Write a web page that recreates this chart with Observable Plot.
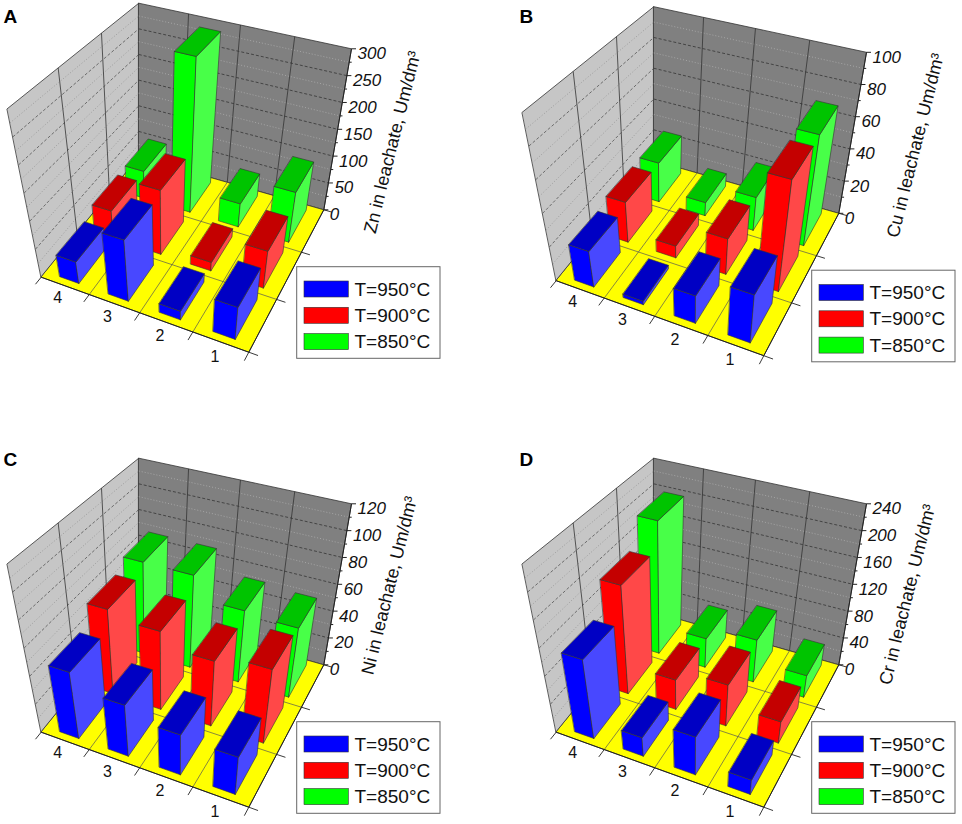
<!DOCTYPE html>
<html>
<head>
<meta charset="utf-8">
<script src="https://cdn.jsdelivr.net/npm/d3@7"></script>
<script src="https://cdn.jsdelivr.net/npm/@observablehq/plot@0.6"></script>
<style>
  body { margin: 0; background: #fff; }
  #chart { width: 962px; height: 824px; }
</style>
</head>
<body>
<div id="chart"></div>
<script>
// ---------- data ----------
const categories = ["4", "3", "2", "1"];
const seriesNames = ["T=950°C", "T=900°C", "T=850°C"];

const zn950 = [38, 108, 15, 56];
const zn900 = [50, 115, 15, 65];
const zn850 = [50, 288, 42, 90];

const cu950 = [21, 2, 16, 28];
const cu900 = [24, 7, 21, 66];
const cu850 = [24, 8, 20, 67];

const ni950 = [47, 36, 28, 26];
const ni900 = [61, 56, 46, 52];
const ni850 = [68, 68, 52, 50];

const cr950 = [112, 26, 53, 20];
const cr900 = [157, 42, 58, 30];
const cr850 = [198, 42, 61, 31];

const znTicks = [0, 50, 100, 150, 200, 250, 300];
const cuTicks = [0, 20, 40, 60, 80, 100];
const niTicks = [0, 20, 40, 60, 80, 100, 120];
const crTicks = [0, 40, 80, 120, 160, 200, 240];

// ---------- layout / style ----------
const FONT = "Arial, 'Liberation Sans', sans-serif";
const panels = [
  {letter: "A", title: "Zn in leachate, Um/dm³", rows: [zn950, zn900, zn850], ticks: znTicks, ox: 0,   oy: 0,   lx: 3,   ly: 22,  tx: 392,   ty: 141.7},
  {letter: "B", title: "Cu in leachate, Um/dm³", rows: [cu950, cu900, cu850], ticks: cuTicks, ox: 515, oy: 3.5, lx: 519, ly: 22,  tx: 400,   ty: 141.5},
  {letter: "C", title: "Ni in leachate, Um/dm³", rows: [ni950, ni900, ni850], ticks: niTicks, ox: 0,   oy: 455, lx: 3,   ly: 465, tx: 389,   ty: 130},
  {letter: "D", title: "Cr in leachate, Um/dm³", rows: [cr950, cr900, cr850], ticks: crTicks, ox: 515, oy: 455, lx: 519, ly: 465, tx: 392,   ty: 139}
];
const faceColors = [
  {front: "#0000ff", top: "#0000c4", side: "#4848ff"},
  {front: "#ff0000", top: "#c40000", side: "#ff4848"},
  {front: "#00ff00", top: "#00c400", side: "#48ff48"}
];

// perspective box: floor and top planes (unit square -> quad)
function homog(p0, p1, p2, p3) {
  const [x0, y0] = p0, [x1, y1] = p1, [x2, y2] = p2, [x3, y3] = p3;
  const dx1 = x1 - x2, dx2 = x3 - x2, dx3 = x0 - x1 + x2 - x3;
  const dy1 = y1 - y2, dy2 = y3 - y2, dy3 = y0 - y1 + y2 - y3;
  const den = dx1 * dy2 - dx2 * dy1;
  const g = (dx3 * dy2 - dx2 * dy3) / den, h = (dx1 * dy3 - dx3 * dy1) / den;
  const a = x1 - x0 + g * x1, b = x3 - x0 + h * x3, c = x0;
  const d = y1 - y0 + g * y1, e = y3 - y0 + h * y3, f = y0;
  return (u, v) => { const w = g * u + h * v + 1; return [(a * u + b * v + c) / w, (d * u + e * v + f) / w]; };
}
const floorH = homog([40.7, 276.7], [248.3, 351.7], [323.3, 209.3], [138.3, 156.6]);
const topH = homog([6.7, 108.3], [266.5, 180], [351, 48.3], [138.3, 2.7]);

const marks = [];
const seg = (a, b) => ({x1: a[0], y1: a[1], x2: b[0], y2: b[1]});
const link = (data, o) => marks.push(Plot.link(data, {x1: "x1", y1: "y1", x2: "x2", y2: "y2", ...o}));
const poly = (pts, fill, stroke = "#333", sw = 0.7) =>
  marks.push(Plot.line(pts, {x: d => d[0], y: d => d[1], fill, stroke, strokeWidth: sw, curve: "linear-closed", strokeLinejoin: "round"}));

for (const p of panels) {
  const zmax = d3.max(p.ticks);
  const z = d3.scaleLinear().domain([0, zmax]).range([0, 1]);
  const P = (U, V, W) => {
    const a = floorH(U, V), b = topH(U, V);
    return [p.ox + a[0] + (b[0] - a[0]) * W, p.oy + a[1] + (b[1] - a[1]) * W];
  };
  const step = p.ticks[1] - p.ticks[0];
  const majors = p.ticks.filter(t => t > 0 && t < zmax);
  const minors = d3.range(step / 2, zmax, step);

  // walls
  poly([P(0, 0, 0), P(0, 1, 0), P(0, 1, 1), P(0, 0, 1)], "#c6c6c6", "#333", 0.8);
  poly([P(0, 1, 0), P(1, 1, 0), P(1, 1, 1), P(0, 1, 1)], "#808080", "#333", 0.8);
  // wall grid
  link(minors.map(v => seg(P(0, 0, z(v)), P(0, 1, z(v)))), {stroke: "#8a8a8a", strokeWidth: 0.7, strokeDasharray: "1,2"});
  link(minors.map(v => seg(P(0, 1, z(v)), P(1, 1, z(v)))), {stroke: "#b4b4b4", strokeWidth: 0.7, strokeDasharray: "1,2"});
  link(majors.map(v => seg(P(0, 0, z(v)), P(0, 1, z(v)))), {stroke: "#444", strokeWidth: 0.7, strokeDasharray: "3,2"});
  link(majors.map(v => seg(P(0, 1, z(v)), P(1, 1, z(v)))), {stroke: "#2a2a2a", strokeWidth: 0.7, strokeDasharray: "3,2"});
  link([1, 2].map(k => seg(P(0, k / 3, 0), P(0, k / 3, 1))), {stroke: "#333", strokeWidth: 0.8});
  link([1, 2, 3].map(k => seg(P(k / 4, 1, 0), P(k / 4, 1, 1))), {stroke: "#333", strokeWidth: 0.8});

  // floor
  poly([P(0, 0, 0), P(1, 0, 0), P(1, 1, 0), P(0, 1, 0)], "#ffff00", "#333", 0.8);
  link([1, 2, 3].map(k => seg(P(k / 4, 0, 0), P(k / 4, 1, 0))), {stroke: "#555", strokeWidth: 0.7});
  link([1, 2].map(k => seg(P(0, k / 3, 0), P(1, k / 3, 0))), {stroke: "#555", strokeWidth: 0.7});
  link([0, 1, 2, 3, 4].map(k => seg(P(k / 4, 0, 0), P(k / 4, -0.05, 0))), {stroke: "#222", strokeWidth: 0.9});
  link([0, 1, 2, 3].map(k => seg(P(1, k / 3, 0), P(1.04, k / 3, 0))), {stroke: "#222", strokeWidth: 0.9});
  link([seg(P(0, 0, 0), P(1, 0, 0)), seg(P(1, 0, 0), P(1, 1, 0))], {stroke: "#222", strokeWidth: 1});

  // value axis
  link([seg(P(1, 1, 0), P(1, 1, 1))], {stroke: "#222", strokeWidth: 1});
  link(p.ticks.map(t => { const a = P(1, 1, z(t)); return seg(a, [a[0] + 4.5, a[1]]); }), {stroke: "#222", strokeWidth: 1});
  link(minors.map(t => { const a = P(1, 1, z(t)); return seg(a, [a[0] + 2.5, a[1]]); }), {stroke: "#222", strokeWidth: 1});
  marks.push(Plot.text(p.ticks, {
    x: t => P(1, 1, z(t))[0], y: t => P(1, 1, z(t))[1], text: t => String(t),
    dx: 6, dy: 5, textAnchor: "start", fontSize: 17, fontStyle: "italic", fontFamily: FONT, fill: "#111"
  }));
  marks.push(Plot.text([p.title], {
    x: () => p.ox + p.tx, y: () => p.oy + p.ty, text: d => d, rotate: -76,
    textAnchor: "middle", fontSize: 18, fontFamily: FONT, fill: "#111"
  }));

  // bars (back row first, left to right)
  for (let j = 2; j >= 0; j--) {
    const col = faceColors[j];
    p.rows[j].forEach((v, i) => {
      const w = z(v);
      const u0 = (i + 0.3) / 4, u1 = (i + 0.7) / 4;
      const v0 = (j + 0.12) / 3, v1 = (j + 0.88) / 3;
      poly([P(u0, v0, 0), P(u1, v0, 0), P(u1, v0, w), P(u0, v0, w)], col.front, "#333", 0.6);
      poly([P(u1, v0, 0), P(u1, v1, 0), P(u1, v1, w), P(u1, v0, w)], col.side, "#333", 0.6);
      poly([P(u0, v0, w), P(u1, v0, w), P(u1, v1, w), P(u0, v1, w)], col.top, "#333", 0.6);
    });
  }

  // category labels
  marks.push(Plot.text(categories, {
    x: (d, i) => P((i + 0.5) / 4, -0.1, 0)[0], y: (d, i) => P((i + 0.5) / 4, -0.1, 0)[1],
    text: d => d, dx: 4, dy: -2, fontSize: 16, fontFamily: FONT, fill: "#111", textAnchor: "middle"
  }));

  // legend
  marks.push(Plot.rect([{x1: p.ox + 296.7, x2: p.ox + 440, y1: p.oy + 266.7, y2: p.oy + 358.3}],
    {x1: "x1", x2: "x2", y1: "y1", y2: "y2", fill: "#fff", stroke: "#666", strokeWidth: 1}));
  const sw = seriesNames.map((s, k) => ({name: s, k, yc: p.oy + 289 + k * 26.3}));
  marks.push(Plot.rect(sw, {x1: () => p.ox + 304, x2: () => p.ox + 348.3, y1: d => d.yc - 8, y2: d => d.yc + 8,
    fill: d => faceColors[d.k].front, stroke: "#333", strokeWidth: 0.6}));
  marks.push(Plot.text(sw, {x: () => p.ox + 354, y: d => d.yc, text: d => d.name, textAnchor: "start",
    fontSize: 19, fontFamily: FONT, fill: "#111"}));

  // panel letter
  marks.push(Plot.text([p.letter], {x: () => p.lx, y: () => p.ly, text: d => d, textAnchor: "start",
    lineAnchor: "bottom", fontSize: 19, fontWeight: "bold", fontFamily: FONT, fill: "#000"}));
}

const chart = Plot.plot({
  width: 962, height: 824, margin: 0,
  x: {type: "linear", domain: [0, 962], range: [0, 962], axis: null},
  y: {type: "linear", domain: [0, 824], range: [0, 824], axis: null},
  style: {background: "#fff", fontFamily: FONT},
  marks
});
document.getElementById("chart").append(chart);
</script>
</body>
</html>
